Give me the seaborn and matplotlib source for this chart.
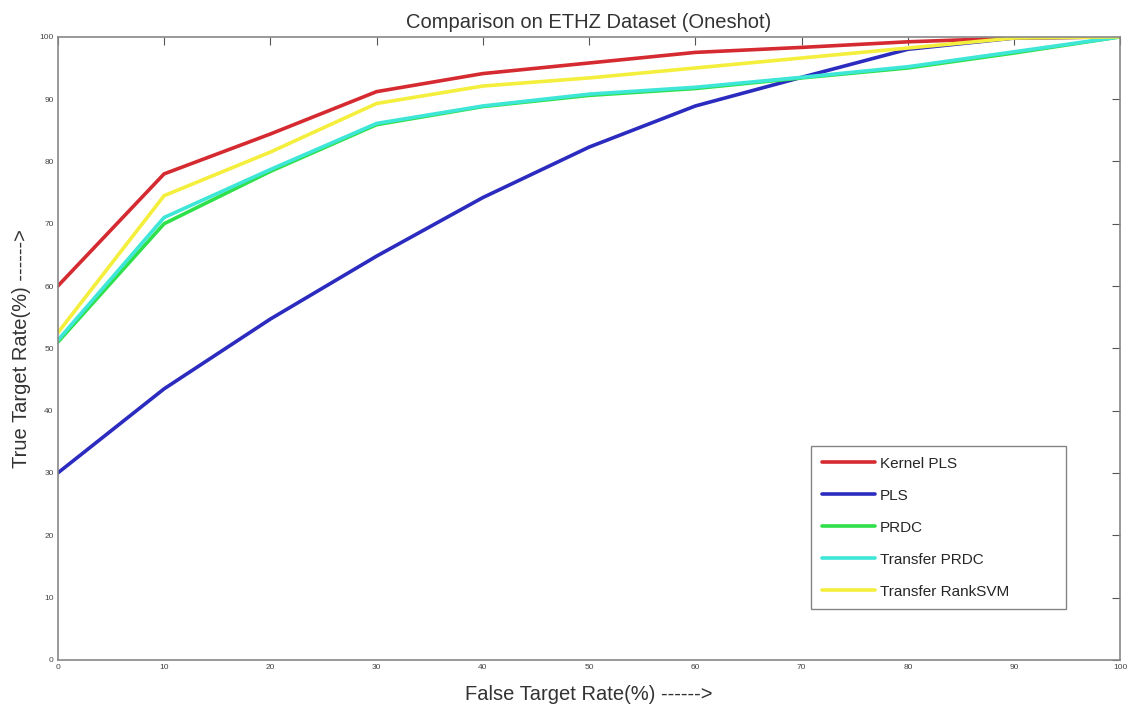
import numpy as np
import pandas as pd
import seaborn as sns
import matplotlib.pyplot as plt

fpr = [0, 10, 20, 30, 40, 50, 60, 70, 80, 90, 100]
kernel_pls = [60, 78, 84.4, 91.2, 94.1, 95.8, 97.5, 98.3, 99.2, 99.8, 100]
pls = [30, 43.5, 54.7, 64.8, 74.2, 82.3, 88.9, 93.5, 98.0, 99.8, 100]
prdc = [51, 70, 78.4, 85.9, 88.8, 90.6, 91.7, 93.4, 95.0, 97.4, 100]
transfer_prdc = [51.3, 71, 78.7, 86.1, 88.9, 90.8, 91.9, 93.5, 95.2, 97.6, 100]
transfer_ranksvm = [52.5, 74.5, 81.5, 89.3, 92.1, 93.4, 95.0, 96.6, 98.2, 99.8, 100]

methods = ["Kernel PLS", "PLS", "PRDC", "Transfer PRDC", "Transfer RankSVM"]
colors = ["#d42a30", "#2b2bbf", "#2fe04a", "#3ee6d8", "#f4ee3c"]

df = pd.concat([
    pd.DataFrame({"FPR": fpr, "TPR": vals, "Method": name})
    for name, vals in zip(methods, [kernel_pls, pls, prdc, transfer_prdc, transfer_ranksvm])
])

sns.set_style("white")
plt.rcParams['font.family'] = ['Liberation Sans', 'DejaVu Sans']

fig = plt.figure(figsize=(11.34, 7.08), dpi=100)
ax = fig.add_axes([0.051, 0.068, 0.937, 0.880])

sns.lineplot(data=df, x="FPR", y="TPR", hue="Method", hue_order=methods,
             palette=colors, linewidth=2.6, ax=ax, legend=True)

ax.set_xlim(0, 100)
ax.set_ylim(0, 100)
ax.set_xticks(range(0, 101, 10))
ax.set_yticks(range(0, 101, 10))
ax.tick_params(direction='in', length=6, width=0.8, colors='#555555', labelsize=6,
               top=True, right=True, labelcolor='#444444', pad=3)
for s in ax.spines.values():
    s.set_color('#888888')
    s.set_linewidth(1.2)

ax.set_title("Comparison on ETHZ Dataset (Oneshot)", fontsize=14.5, color='#333333', pad=6)
ax.set_xlabel("False Target Rate(%) ------>", fontsize=14.5, color='#333333', labelpad=10)
ax.set_ylabel("True Target Rate(%) ------>", fontsize=14.5, color='#333333', labelpad=6)

leg = ax.legend(loc='lower left', bbox_to_anchor=(0.709, 0.081, 0.240, 0.262),
                mode='expand', fontsize=11, frameon=True, fancybox=False,
                handlelength=3.5, handletextpad=0.3, labelspacing=1.18,
                borderpad=0.7, borderaxespad=0)
leg.get_frame().set_edgecolor('#666666')
leg.get_frame().set_linewidth(1.0)
for line in leg.get_lines():
    line.set_linewidth(2.6)

fig.savefig("out.png", dpi=100)
